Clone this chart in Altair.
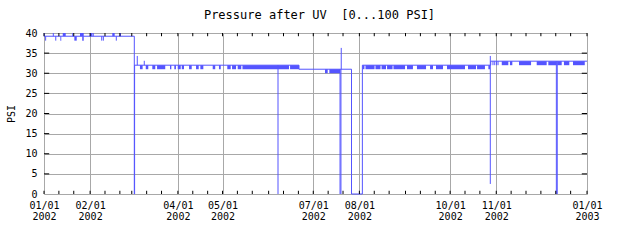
import altair as alt
import pandas as pd

# ---------------- data ----------------
# day offsets from 2002-01-01 (UTC)
step_days = [0.0, 60.7, 60.9, 171.4, 206.7, 214.0, 300.3, 365.0]
step_psi = [39.2, 0.0, 32.0, 31.0, 0.0, 32.0, 33.0, 33.0]

# single-sample excursions
spike_days = [0.2, 6.25, 33.1, 51.4, 1.1, 7.9, 38.8, 39.9, 48.6,
              62.7, 67.4, 157.3, 199.0, 199.6, 199.8, 300.0,
              301.8, 303.0, 304.2, 305.2, 344.4, 345.0]
spike_lo = [39.2, 39.2, 39.2, 39.2, 38.1, 38.1, 38.1, 38.1, 38.1,
            32.0, 32.0, 0.0, 0.0, 0.0, 31.0, 2.5,
            32.0, 32.0, 32.0, 32.0, 0.0, 0.0]
spike_hi = [40.0, 40.0, 40.0, 40.0, 39.2, 39.2, 39.2, 39.2, 39.2,
            34.3, 33.1, 32.0, 31.0, 31.0, 36.3, 34.3,
            33.0, 33.0, 33.0, 33.0, 33.0, 33.0]

# dense oscillation blocks (start day, end day, low psi, high psi)
band_start = [12.6, 19.0, 24.2, 30.9, 45.9, 11.0, 20.4, 25.7,
              64.5, 68.4, 72.8, 76.0, 84.7, 87.6, 89.9, 92.6, 97.5, 102.2,
              105.1, 113.4, 117.6, 123.2, 126.4, 130.2, 133.4, 165.4,
              188.9, 191.8,
              214.1, 216.1, 222.8, 226.9, 230.6, 234.9, 244.0, 250.7, 259.5,
              263.5, 270.9, 285.0, 291.1, 298.7,
              307.7, 313.2, 319.3, 331.2, 339.0, 345.0, 349.5, 355.6]
band_end = [14.6, 19.7, 26.7, 32.5, 47.5, 11.6, 22.0, 26.7,
            66.3, 70.1, 74.8, 81.5, 85.6, 88.7, 91.9, 94.1, 99.3, 104.0,
            107.1, 115.1, 118.8, 125.5, 129.1, 132.6, 164.7, 171.4,
            190.7, 199.0,
            215.4, 222.2, 226.2, 229.9, 234.3, 242.7, 248.0, 256.8, 261.5,
            268.2, 283.0, 290.4, 296.4, 299.8,
            312.1, 314.8, 327.4, 337.9, 344.6, 348.0, 353.1, 363.5]
band_lo = [39.2] * 5 + [38.1] * 3 + [31.0] * 18 + [30.0] * 2 + [31.0] * 14 + [32.0] * 8
band_hi = [40.0] * 5 + [39.2] * 3 + [32.0] * 18 + [31.0] * 2 + [32.0] * 14 + [33.0] * 8

major_ticks = ["2002-01-01", "2002-02-01", "2002-04-01", "2002-05-01",
               "2002-07-01", "2002-08-01", "2002-10-01", "2002-11-01",
               "2003-01-01"]
y_ticks = [0, 5, 10, 15, 20, 25, 30, 35, 40]
minor_tick_dates = [f"2002-{m:02d}-{d:02d}" for m in range(1, 13) for d in (1, 11, 21)] + ["2003-01-01"]

# ---------------- helpers ----------------
MS_DAY = 86400000
T0 = int(pd.Timestamp("2002-01-01", tz="UTC").value // 10**6)


def ms_of_day(d):
    return T0 + d * MS_DAY


def ms_of_date(s):
    return int(pd.Timestamp(s, tz="UTC").value // 10**6)


BLUE = "#5454ff"
GRID = "#a8a8a8"
FONT = "DejaVu Sans Mono"

line_df = pd.DataFrame({"t": [ms_of_day(d) for d in step_days], "v": step_psi})
spike_df = pd.DataFrame({"t": [ms_of_day(d) for d in spike_days], "v": spike_lo, "v2": spike_hi})
band_df = pd.DataFrame({"t": [ms_of_day(d) for d in band_start],
                        "t2": [ms_of_day(d) for d in band_end],
                        "v": band_lo, "v2": band_hi})
minor_ms = [ms_of_date(s) for s in minor_tick_dates]
xtick_df = pd.DataFrame({"t": minor_ms + minor_ms,
                         "v": [0.0] * len(minor_ms) + [40.0] * len(minor_ms),
                         "v2": [0.8] * len(minor_ms) + [39.2] * len(minor_ms)})
inner_y = y_ticks[1:-1]
ytick_df = pd.DataFrame({"t": [ms_of_day(0)] * len(inner_y) + [ms_of_day(361.5)] * len(inner_y),
                         "t2": [ms_of_day(3.5)] * len(inner_y) + [ms_of_day(365)] * len(inner_y),
                         "v": inner_y + inner_y})

x_scale = alt.Scale(type="utc", domain=[ms_of_date(major_ticks[0]), ms_of_date(major_ticks[-1])])
y_scale = alt.Scale(domain=[0, 40], nice=False, zero=False)

x_axis = alt.Axis(values=[ms_of_date(s) for s in major_ticks], grid=True, gridColor=GRID,
                  domain=False, ticks=False, labelFlush=False, labelOverlap=False,
                  labelExpr="[utcFormat(datum.value, '%m/%d'), utcFormat(datum.value, '%Y')]",
                  labelPadding=6, labelLineHeight=11, labelFont=FONT, labelFontSize=10,
                  labelColor="black")
y_axis = alt.Axis(values=y_ticks, grid=True, gridColor=GRID, domain=False, ticks=False,
                  labelPadding=7, labelFont=FONT, labelFontSize=10, labelColor="black",
                  titleFont=FONT, titleFontSize=10, titleFontWeight="normal",
                  titleColor="black", titlePadding=8)

X = alt.X("t:T", scale=x_scale, axis=x_axis, title=None)
Y = alt.Y("v:Q", scale=y_scale, axis=y_axis, title="PSI")

bands = alt.Chart(band_df).mark_rect(color=BLUE, opacity=1).encode(
    x=X, x2="t2", y=Y, y2="v2")
line = alt.Chart(line_df).mark_line(color=BLUE, strokeWidth=1, interpolate="step-after").encode(
    x=X, y=Y)
spikes = alt.Chart(spike_df).mark_rule(color=BLUE, strokeWidth=1).encode(
    x=X, y=Y, y2="v2")
xticks = alt.Chart(xtick_df).mark_rule(color="black", strokeWidth=1).encode(
    x=X, y=Y, y2="v2")
yticks = alt.Chart(ytick_df).mark_rule(color="black", strokeWidth=1).encode(
    x=X, x2="t2", y=Y)

chart = alt.layer(bands, line, spikes, xticks, yticks).properties(
    width=543, height=161,
    autosize="none",
    padding={"left": 44, "top": 33, "right": 53, "bottom": 46},
    title=alt.TitleParams("Pressure after UV\u00a0 [0...100 PSI]", font=FONT, fontSize=12,
                          fontWeight="normal", color="black", anchor="middle",
                          frame="group", offset=6, dx=4),
).configure_view(stroke="black", strokeWidth=1).configure(background="white")

chart.save("out.html", embed_options={"renderer": "svg", "actions": False})
